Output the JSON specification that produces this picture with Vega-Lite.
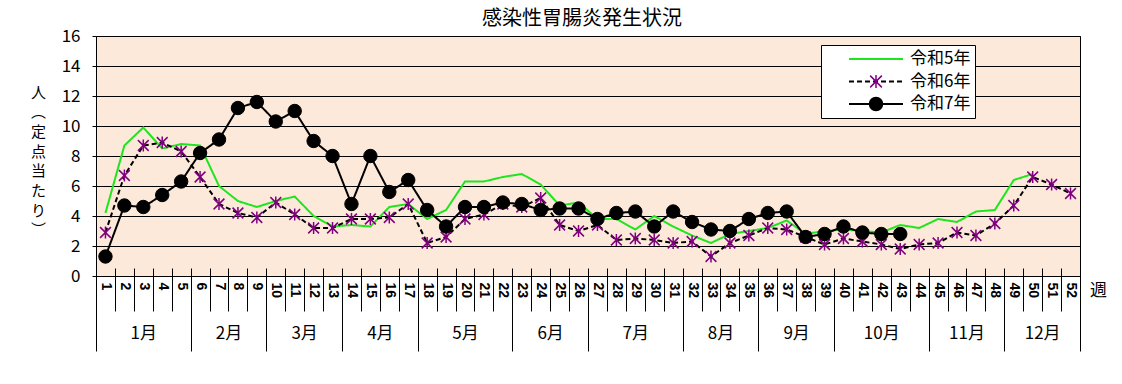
{
  "$schema": "https://vega.github.io/schema/vega-lite/v6.json",
  "width": 984,
  "height": 240,
  "autosize": {"type": "none"},
  "padding": {"left": 96, "top": 36, "right": 42, "bottom": 108},
  "background": "white",
  "config": {
    "view": {"fill": "#FDE9D9", "stroke": "black", "strokeWidth": 1},
    "font": "Noto Sans CJK JP"
  },
  "title": {"text": "感染性胃腸炎発生状況", "font": "Noto Sans CJK JP", "fontSize": 20, "fontWeight": "normal", "color": "black", "anchor": "middle", "frame": "group", "offset": -2, "dx": -6},
  "datasets": {
    "d": [
      {"week":1,"series":"令和5年","value":4.2},{"week":2,"series":"令和5年","value":8.7},{"week":3,"series":"令和5年","value":9.9},{"week":4,"series":"令和5年","value":8.5},{"week":5,"series":"令和5年","value":8.8},{"week":6,"series":"令和5年","value":8.7},{"week":7,"series":"令和5年","value":6.0},{"week":8,"series":"令和5年","value":5.0},{"week":9,"series":"令和5年","value":4.6},{"week":10,"series":"令和5年","value":5.0},
      {"week":11,"series":"令和5年","value":5.3},{"week":12,"series":"令和5年","value":4.0},{"week":13,"series":"令和5年","value":3.3},{"week":14,"series":"令和5年","value":3.4},{"week":15,"series":"令和5年","value":3.3},{"week":16,"series":"令和5年","value":4.6},{"week":17,"series":"令和5年","value":4.8},{"week":18,"series":"令和5年","value":3.8},{"week":19,"series":"令和5年","value":4.4},{"week":20,"series":"令和5年","value":6.3},
      {"week":21,"series":"令和5年","value":6.3},{"week":22,"series":"令和5年","value":6.6},{"week":23,"series":"令和5年","value":6.8},{"week":24,"series":"令和5年","value":6.1},{"week":25,"series":"令和5年","value":4.7},{"week":26,"series":"令和5年","value":4.9},{"week":27,"series":"令和5年","value":3.8},{"week":28,"series":"令和5年","value":3.8},{"week":29,"series":"令和5年","value":3.1},{"week":30,"series":"令和5年","value":4.0},
      {"week":31,"series":"令和5年","value":3.3},{"week":32,"series":"令和5年","value":2.7},{"week":33,"series":"令和5年","value":2.2},{"week":34,"series":"令和5年","value":2.8},{"week":35,"series":"令和5年","value":3.0},{"week":36,"series":"令和5年","value":3.2},{"week":37,"series":"令和5年","value":3.7},{"week":38,"series":"令和5年","value":2.8},{"week":39,"series":"令和5年","value":3.0},{"week":40,"series":"令和5年","value":3.1},
      {"week":41,"series":"令和5年","value":3.0},{"week":42,"series":"令和5年","value":2.9},{"week":43,"series":"令和5年","value":3.4},{"week":44,"series":"令和5年","value":3.2},{"week":45,"series":"令和5年","value":3.8},{"week":46,"series":"令和5年","value":3.6},{"week":47,"series":"令和5年","value":4.3},{"week":48,"series":"令和5年","value":4.4},{"week":49,"series":"令和5年","value":6.4},{"week":50,"series":"令和5年","value":6.8},

      {"week":1,"series":"令和6年","value":2.9},{"week":2,"series":"令和6年","value":6.7},{"week":3,"series":"令和6年","value":8.7},{"week":4,"series":"令和6年","value":8.9},{"week":5,"series":"令和6年","value":8.3},{"week":6,"series":"令和6年","value":6.6},{"week":7,"series":"令和6年","value":4.8},{"week":8,"series":"令和6年","value":4.2},{"week":9,"series":"令和6年","value":3.9},{"week":10,"series":"令和6年","value":4.9},
      {"week":11,"series":"令和6年","value":4.1},{"week":12,"series":"令和6年","value":3.2},{"week":13,"series":"令和6年","value":3.2},{"week":14,"series":"令和6年","value":3.8},{"week":15,"series":"令和6年","value":3.8},{"week":16,"series":"令和6年","value":3.9},{"week":17,"series":"令和6年","value":4.8},{"week":18,"series":"令和6年","value":2.2},{"week":19,"series":"令和6年","value":2.6},{"week":20,"series":"令和6年","value":3.8},
      {"week":21,"series":"令和6年","value":4.1},{"week":22,"series":"令和6年","value":4.8},{"week":23,"series":"令和6年","value":4.6},{"week":24,"series":"令和6年","value":5.2},{"week":25,"series":"令和6年","value":3.4},{"week":26,"series":"令和6年","value":3.0},{"week":27,"series":"令和6年","value":3.4},{"week":28,"series":"令和6年","value":2.4},{"week":29,"series":"令和6年","value":2.5},{"week":30,"series":"令和6年","value":2.4},
      {"week":31,"series":"令和6年","value":2.2},{"week":32,"series":"令和6年","value":2.3},{"week":33,"series":"令和6年","value":1.3},{"week":34,"series":"令和6年","value":2.2},{"week":35,"series":"令和6年","value":2.7},{"week":36,"series":"令和6年","value":3.2},{"week":37,"series":"令和6年","value":3.1},{"week":38,"series":"令和6年","value":2.6},{"week":39,"series":"令和6年","value":2.1},{"week":40,"series":"令和6年","value":2.5},
      {"week":41,"series":"令和6年","value":2.3},{"week":42,"series":"令和6年","value":2.1},{"week":43,"series":"令和6年","value":1.8},{"week":44,"series":"令和6年","value":2.1},{"week":45,"series":"令和6年","value":2.2},{"week":46,"series":"令和6年","value":2.9},{"week":47,"series":"令和6年","value":2.7},{"week":48,"series":"令和6年","value":3.5},{"week":49,"series":"令和6年","value":4.7},{"week":50,"series":"令和6年","value":6.6},
      {"week":51,"series":"令和6年","value":6.1},{"week":52,"series":"令和6年","value":5.5},

      {"week":1,"series":"令和7年","value":1.3},{"week":2,"series":"令和7年","value":4.7},{"week":3,"series":"令和7年","value":4.6},{"week":4,"series":"令和7年","value":5.4},{"week":5,"series":"令和7年","value":6.3},{"week":6,"series":"令和7年","value":8.2},{"week":7,"series":"令和7年","value":9.1},{"week":8,"series":"令和7年","value":11.2},{"week":9,"series":"令和7年","value":11.6},{"week":10,"series":"令和7年","value":10.3},
      {"week":11,"series":"令和7年","value":11.0},{"week":12,"series":"令和7年","value":9.0},{"week":13,"series":"令和7年","value":8.0},{"week":14,"series":"令和7年","value":4.8},{"week":15,"series":"令和7年","value":8.0},{"week":16,"series":"令和7年","value":5.6},{"week":17,"series":"令和7年","value":6.4},{"week":18,"series":"令和7年","value":4.4},{"week":19,"series":"令和7年","value":3.3},{"week":20,"series":"令和7年","value":4.6},
      {"week":21,"series":"令和7年","value":4.6},{"week":22,"series":"令和7年","value":4.9},{"week":23,"series":"令和7年","value":4.8},{"week":24,"series":"令和7年","value":4.4},{"week":25,"series":"令和7年","value":4.5},{"week":26,"series":"令和7年","value":4.5},{"week":27,"series":"令和7年","value":3.8},{"week":28,"series":"令和7年","value":4.2},{"week":29,"series":"令和7年","value":4.3},{"week":30,"series":"令和7年","value":3.3},
      {"week":31,"series":"令和7年","value":4.3},{"week":32,"series":"令和7年","value":3.6},{"week":33,"series":"令和7年","value":3.1},{"week":34,"series":"令和7年","value":3.0},{"week":35,"series":"令和7年","value":3.8},{"week":36,"series":"令和7年","value":4.2},{"week":37,"series":"令和7年","value":4.3},{"week":38,"series":"令和7年","value":2.6},{"week":39,"series":"令和7年","value":2.8},{"week":40,"series":"令和7年","value":3.3},
      {"week":41,"series":"令和7年","value":2.9},{"week":42,"series":"令和7年","value":2.8},{"week":43,"series":"令和7年","value":2.8}
    ]
  },
  "data": {"name": "d"},
  "resolve": {"axis": {"x": "independent"}},
  "encoding": {
    "y": {"field": "value", "type": "quantitative",
      "scale": {"domain": [0, 16], "nice": false},
      "axis": {"orient": "left", "values": [0,2,4,6,8,10,12,14,16], "grid": true, "gridColor": "black", "gridWidth": 1, "gridOpacity": 1, "domain": false, "ticks": true, "tickSize": 4, "tickColor": "black",
        "labelFont": "Noto Sans CJK JP", "labelFontSize": 17, "labelColor": "black", "labelPadding": 12, "labelFlush": false, "labelOverlap": false,
        "title": ["人", "︵", "定", "点", "当", "た", "り", "︶"], "titleAngle": 0, "titleX": -58, "titleY": 56, "titleAlign": "center", "titleBaseline": "middle", "titleFont": "Noto Sans CJK JP", "titleFontSize": 15, "titleFontWeight": "normal", "titleLineHeight": 19.7, "titleColor": "black"}}
  },
  "layer": [
    {
      "transform": [{"filter": "datum.series === '令和5年'"}],
      "mark": {"type": "line", "strokeWidth": 2},
      "encoding": {
        "x": {"field": "week", "type": "quantitative",
          "scale": {"domain": [0.5, 52.5], "nice": false, "zero": false},
          "axis": {"orient": "bottom", "values": [1,2,3,4,5,6,7,8,9,10,11,12,13,14,15,16,17,18,19,20,21,22,23,24,25,26,27,28,29,30,31,32,33,34,35,36,37,38,39,40,41,42,43,44,45,46,47,48,49,50,51,52],
            "labelAngle": 90, "labelAlign": "left", "labelBaseline": "middle", "labelFont": "Liberation Sans", "labelFontWeight": "bold", "labelFontSize": 14, "labelColor": "black", "labelPadding": 6,
            "ticks": false, "tickSize": 0, "domain": false, "grid": false, "labelOverlap": false, "labelFlush": false, "labelBound": false,
            "title": "週", "titleX": 1002, "titleY": 14, "titleAngle": 0, "titleAlign": "center", "titleBaseline": "middle", "titleFont": "Noto Sans CJK JP", "titleFontSize": 17, "titleFontWeight": "normal", "titleColor": "black"}},
        "color": {"field": "series", "type": "nominal",
          "scale": {"range": ["#1EE61E", "black", "black"]},
          "legend": {"orient": "none", "legendX": 725, "legendY": 9, "title": null, "direction": "vertical", "padding": 4, "rowPadding": 2.5, "clipHeight": 20,
            "symbolType": "stroke", "symbolSize": 2916, "symbolStrokeWidth": 2, "symbolOffset": 23, "labelOffset": 6,
            "labelFont": "Noto Sans CJK JP", "labelFontSize": 17, "labelColor": "black", "labelBaseline": "middle", "labelLimit": 300, "labelExpr": "datum.label + '\u00a0\u00a0\u00a0\u00a0\u00a0\u00a0\u00a0\u00a0\u00a0'",
            "fillColor": "white", "strokeColor": "black", "zindex": 1}},
        "strokeDash": {"field": "series", "type": "nominal",
          "scale": {"range": [[1, 0], [5, 3], [1, 0]]},
          "legend": {"orient": "none", "legendX": 725, "legendY": 9, "title": null, "direction": "vertical", "padding": 4, "rowPadding": 2.5, "clipHeight": 20,
            "symbolType": "stroke", "symbolSize": 2916, "symbolStrokeWidth": 2, "symbolOffset": 23, "labelOffset": 6,
            "labelFont": "Noto Sans CJK JP", "labelFontSize": 17, "labelColor": "black", "labelBaseline": "middle", "labelLimit": 300, "labelExpr": "datum.label + '\u00a0\u00a0\u00a0\u00a0\u00a0\u00a0\u00a0\u00a0\u00a0'",
            "fillColor": "white", "strokeColor": "black", "zindex": 1}}
      }
    },
    {
      "transform": [{"filter": "datum.series === '令和6年'"}],
      "mark": {"type": "line", "strokeWidth": 2},
      "encoding": {
        "x": {"field": "week", "type": "quantitative",
          "axis": {"orient": "bottom", "values": [0.5,1.5,2.5,3.5,4.5,5.5,6.5,7.5,8.5,9.5,10.5,11.5,12.5,13.5,14.5,15.5,16.5,17.5,18.5,19.5,20.5,21.5,22.5,23.5,24.5,25.5,26.5,27.5,28.5,29.5,30.5,31.5,32.5,33.5,34.5,35.5,36.5,37.5,38.5,39.5,40.5,41.5,42.5,43.5,44.5,45.5,46.5,47.5,48.5,49.5,50.5,51.5,52.5],
            "labels": false, "domain": false, "grid": false, "ticks": true, "tickSize": 43, "tickColor": "black", "tickWidth": 1, "offset": -8, "title": null}},
        "color": {"field": "series", "type": "nominal"},
        "strokeDash": {"field": "series", "type": "nominal"}
      }
    },
    {
      "transform": [{"filter": "datum.series === '令和6年'"}],
      "mark": {"type": "point", "strokeWidth": 1.5, "size": 144, "opacity": 1},
      "encoding": {
        "x": {"field": "week", "type": "quantitative",
          "axis": {"orient": "bottom", "values": [0.5, 5.5, 9.5, 13.5, 17.5, 22.5, 26.5, 31.5, 35.5, 39.5, 44.5, 48.5, 52.5],
            "labels": false, "domain": false, "grid": false, "ticks": true, "tickSize": 75, "tickColor": "black", "tickWidth": 1, "title": null}},
        "shape": {"field": "series", "type": "nominal",
          "scale": {"domain": ["令和5年", "令和6年", "令和7年"], "range": ["M0,0", "M-0.9,-0.9L0.9,0.9M-0.9,0.9L0.9,-0.9M0,-1L0,1", "circle"]},
          "legend": {"orient": "none", "legendX": 725, "legendY": 9, "title": null, "direction": "vertical", "padding": 4, "rowPadding": 2.5, "clipHeight": 20,
            "symbolSize": 169, "symbolStrokeWidth": 1.5, "symbolOffset": 42.5, "labelOffset": 6, "labelFontSize": 17, "labelExpr": "''", "zindex": 2}},
        "fill": {"field": "series", "type": "nominal",
          "scale": {"domain": ["令和5年", "令和6年", "令和7年"], "range": ["transparent", "transparent", "black"]},
          "legend": {"orient": "none", "legendX": 725, "legendY": 9, "title": null, "direction": "vertical", "padding": 4, "rowPadding": 2.5, "clipHeight": 20,
            "symbolSize": 169, "symbolStrokeWidth": 1.5, "symbolOffset": 42.5, "labelOffset": 6, "labelFontSize": 17, "labelExpr": "''", "zindex": 2}},
        "stroke": {"field": "series", "type": "nominal",
          "scale": {"domain": ["令和5年", "令和6年", "令和7年"], "range": ["transparent", "#800080", "black"]},
          "legend": {"orient": "none", "legendX": 725, "legendY": 9, "title": null, "direction": "vertical", "padding": 4, "rowPadding": 2.5, "clipHeight": 20,
            "symbolSize": 169, "symbolStrokeWidth": 1.5, "symbolOffset": 42.5, "labelOffset": 6, "labelFontSize": 17, "labelExpr": "''", "zindex": 2}}
      }
    },
    {
      "transform": [{"filter": "datum.series === '令和7年'"}],
      "mark": {"type": "line", "strokeWidth": 2},
      "encoding": {
        "x": {"field": "week", "type": "quantitative",
          "axis": {"orient": "bottom", "values": [3, 7.5, 11.5, 15.5, 20, 24.5, 29, 33.5, 37.5, 42, 46.5, 50.5],
            "labelExpr": "['1月','2月','3月','4月','5月','6月','7月','8月','9月','10月','11月','12月'][indexof([3,7.5,11.5,15.5,20,24.5,29,33.5,37.5,42,46.5,50.5], datum.value)]",
            "ticks": false, "tickSize": 0, "domain": false, "grid": false, "labelPadding": 57.5, "labelBaseline": "middle", "labelAngle": 0, "labelAlign": "center",
            "labelFont": "Noto Sans CJK JP", "labelFontSize": 17, "labelColor": "black", "labelOverlap": false, "labelFlush": false, "title": null}},
        "color": {"field": "series", "type": "nominal"},
        "strokeDash": {"field": "series", "type": "nominal"}
      }
    },
    {
      "transform": [{"filter": "datum.series === '令和7年'"}],
      "mark": {"type": "point", "strokeWidth": 1, "size": 180, "opacity": 1},
      "encoding": {
        "x": {"field": "week", "type": "quantitative", "axis": null},
        "shape": {"field": "series", "type": "nominal"},
        "fill": {"field": "series", "type": "nominal"},
        "stroke": {"field": "series", "type": "nominal"}
      }
    }
  ]
}
